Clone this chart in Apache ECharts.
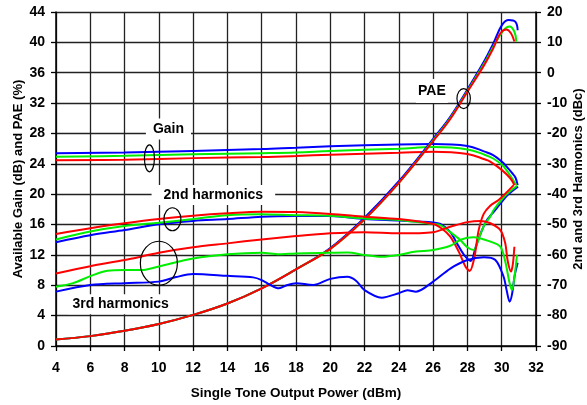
<!DOCTYPE html>
<html>
<head>
<meta charset="utf-8">
<script src="https://cdn.jsdelivr.net/npm/echarts@6/dist/echarts.min.js"></script>
<style>
html,body{margin:0;padding:0;background:#fff;}
#c{width:587px;height:405px;}
</style>
</head>
<body>
<div id="c"></div>
<script>
// ---------- DATA ----------
// Gain (dB) - left axis
const gainBlueX = [4, 8, 12, 16, 18, 20, 24, 26, 28, 29, 29.5, 30, 30.3, 30.6, 30.8, 30.93];
const gainBlueY = [25.39, 25.5, 25.7, 25.95, 26.13, 26.3, 26.55, 26.6, 26.35, 25.6, 25.15, 24.3, 23.6, 22.8, 22.2, 21.2];
const gainGreenX = [4, 8, 12, 16, 18, 20, 24, 26, 28, 29, 29.5, 30, 30.2, 30.6, 30.85];
const gainGreenY = [24.94, 25.05, 25.25, 25.4, 25.5, 25.7, 26.0, 26.2, 25.9, 25.2, 24.7, 23.9, 23.4, 22.1, 21.2];
const gainRedX = [4, 8, 12, 16, 18, 20, 24, 26, 28, 29, 29.33, 30, 30.5, 30.74];
const gainRedY = [24.47, 24.55, 24.75, 24.9, 25.03, 25.2, 25.45, 25.6, 25.3, 24.6, 24.3, 23.2, 22.1, 21.2];

// PAE (%) - left axis
const paeX = [4, 6, 8, 10, 12, 14, 16, 18, 20, 22, 24, 26, 27, 28, 29, 29.5];
const paeBlueY = [0.85, 1.3, 2.0, 2.9, 4.1, 5.6, 7.6, 10.1, 12.9, 16.9, 21.7, 27.3, 30.2, 33.8, 37.6, 39.8];
const paeGreenY = [0.85, 1.3, 2.0, 2.9, 4.1, 5.6, 7.6, 10.1, 12.8, 16.7, 21.5, 27.1, 30.0, 33.6, 37.3, 39.4];
const paeRedY = [0.85, 1.3, 2.0, 2.9, 4.1, 5.6, 7.6, 10.1, 12.8, 16.7, 21.5, 27.0, 29.9, 33.5, 37.1, 39.2];
const paeBlueTopX = [30.02, 30.41, 30.8, 30.93];
const paeBlueTopY = [42.3, 42.95, 42.7, 41.6];
const paeGreenTopX = [30.11, 30.46, 30.74, 30.85];
const paeGreenTopY = [41.6, 42.1, 41.4, 40.1];
const paeRedTopX = [29.92, 30.27, 30.54, 30.74];
const paeRedTopY = [41.2, 41.7, 41.2, 40.1];

// 2nd harmonics (dBc) - right axis
const h2BlueX = [4, 6, 8, 10, 12, 14, 16, 18, 20, 22, 24, 26, 26.42, 27, 27.39, 27.8, 28.2, 28.46, 28.8, 29.14, 29.63, 30.3, 30.95];
const h2BlueY = [-55.8, -53.5, -51.8, -49.9, -48.8, -48.2, -47.4, -47.2, -47.2, -48.2, -48.7, -49.3, -49.8, -52.5, -56.2, -60.0, -62.0, -57.8, -52.5, -48.5, -45.2, -40.5, -37.5];
const h2GreenX = [4, 6, 8, 10, 12, 14, 16, 18, 20, 22, 24, 26, 26.42, 27, 27.58, 28, 28.36, 28.7, 29.0, 29.33, 29.53, 30.2, 30.9];
const h2GreenY = [-54.9, -52.3, -50.5, -49.4, -48.2, -46.9, -46.6, -46.9, -47.1, -48.0, -48.5, -49.8, -50.2, -52.5, -55.1, -57.5, -58.4, -54.0, -50.0, -47.4, -45.2, -40.5, -37.2];
const h2RedX = [4, 6, 8, 10, 12, 14, 16, 18, 20, 22, 24, 26, 26.5, 27, 27.5, 27.9, 28.13, 28.4, 28.65, 28.95, 29.33, 29.82, 30.7];
const h2RedY = [-53.1, -51.2, -49.6, -48.2, -47.1, -46.3, -45.8, -45.9, -46.5, -47.4, -48.2, -49.8, -51.3, -54.0, -59.0, -64.0, -65.3, -61.0, -52.0, -46.5, -43.8, -41.9, -37.0];

// 3rd harmonics (dBc) - right axis
const h3BlueX = [4, 6, 8, 10, 11, 12, 14, 15.5, 16, 16.5, 17, 17.5, 18, 19, 20, 21, 21.5, 22, 23, 24, 24.5, 25, 26, 27, 28, 28.95, 29.63, 30.11, 30.3, 30.46, 30.6, 30.75, 30.93];
const h3BlueY = [-72.1, -69.9, -69.3, -68.8, -67.3, -66.3, -66.9, -67.4, -68.3, -69.9, -71.0, -69.9, -69.3, -69.9, -67.9, -67.2, -68.5, -71.6, -74.1, -72.6, -71.6, -72.1, -68.8, -64.5, -61.7, -60.8, -61.7, -67.2, -72.0, -75.4, -73.0, -67.0, -62.6];
const h3GreenX = [4, 5, 6, 7, 8, 9, 10, 12, 14, 16, 17, 18, 20, 21, 22, 23, 24, 25, 26, 27, 27.6, 28.36, 29.33, 29.92, 30.2, 30.45, 30.6, 30.75, 30.89];
const h3GreenY = [-70.5, -69.3, -67.0, -65.2, -65.0, -65.0, -63.8, -61.2, -59.8, -59.3, -59.8, -59.5, -59.3, -59.2, -60.0, -60.6, -60.0, -58.9, -58.4, -57.0, -55.0, -54.2, -55.6, -57.3, -62.0, -69.0, -71.6, -67.0, -60.0];
const h3RedX = [4, 6, 8, 10, 12, 14, 16, 18, 20, 22, 24, 26, 27, 28, 28.75, 29.3, 29.92, 30.2, 30.35, 30.54, 30.65, 30.74];
const h3RedY = [-66.1, -63.7, -61.7, -59.3, -57.5, -56.2, -54.9, -53.8, -52.9, -52.5, -52.9, -52.5, -50.7, -49.2, -48.8, -49.5, -51.8, -56.0, -62.0, -65.5, -63.0, -57.3];

// Axis ticks
const xTicks = {min: 4, max: 32, interval: 2};
const leftTicks = {min: 0, max: 44, interval: 4};
const rightTicks = {min: -90, max: 20, interval: 10};

// Annotations (data coordinates on left axis)
const labels = [
  {text: 'Gain', x: 10.56, y: 28.6, pad: [4, 7, 3, 7]},
  {text: '2nd harmonics', x: 13.18, y: 19.9, pad: [3, 12, 3, 12]},
  {text: '3rd harmonics', x: 7.77, y: 5.5, pad: [3, 4, 3, 4]},
  {text: 'PAE', x: 25.93, y: 33.6, pad: [5, 2, 5, 2]}
];
const ellipses = [
  {x: 9.45, y: 24.73, rx: 5, ry: 13.5},
  {x: 10.79, y: 16.7, rx: 8.5, ry: 11.5},
  {x: 10.0, y: 10.9, rx: 18.5, ry: 22},
  {x: 27.78, y: 32.6, rx: 6.7, ry: 10}
];

// ---------- CHART ----------
const BLUE = '#0000ff', GREEN = '#00ee00', RED = '#ff0000';
const FONT = 'Liberation Sans';
function pairs(xs, ys) { return xs.map((x, i) => [x, ys[i]]); }
function line(name, xs, ys, color, yAxisIndex, smooth) {
  return {
    name: name, type: 'line', yAxisIndex: yAxisIndex, data: pairs(xs, ys),
    showSymbol: false, symbol: 'none', smooth: smooth === undefined ? 0.4 : smooth,
    lineStyle: {color: color, width: 2}, itemStyle: {color: color},
    animation: false, z: 3
  };
}

const chart = echarts.init(document.getElementById('c'), null, {renderer: 'canvas'});
const axisLabelStyle = {color: '#000', fontFamily: FONT, fontWeight: 'bold', fontSize: 14};
const gridLine = {show: true, lineStyle: {color: '#222', width: 1.3}};

chart.setOption({
  backgroundColor: '#fff',
  animation: false,
  grid: {left: 56, right: 51, top: 12, bottom: 59, containLabel: false, outerBoundsMode: 'none'},
  xAxis: {
    type: 'value', min: xTicks.min, max: xTicks.max, interval: xTicks.interval,
    name: 'Single Tone Output Power (dBm)', nameLocation: 'middle', nameGap: 40,
    nameTextStyle: {color: '#000', fontFamily: FONT, fontWeight: 'bold', fontSize: 13.5},
    axisLine: {show: true, lineStyle: {color: '#000', width: 1.5}},
    axisTick: {show: true, length: 5, lineStyle: {color: '#000', width: 1.3}},
    axisLabel: Object.assign({margin: 15}, axisLabelStyle),
    splitLine: gridLine
  },
  yAxis: [
    {
      type: 'value', position: 'left', min: leftTicks.min, max: leftTicks.max, interval: leftTicks.interval,
      name: 'Available Gain (dB) and PAE (%)', nameLocation: 'middle', nameGap: 31, nameRotate: 90,
      nameMoveOverlap: false,
      nameTextStyle: {color: '#000', fontFamily: FONT, fontWeight: 'bold', fontSize: 13},
      axisLine: {show: true, lineStyle: {color: '#000', width: 1.5}},
      axisTick: {show: true, length: 5, lineStyle: {color: '#000', width: 1.3}},
      axisLabel: Object.assign({margin: 11}, axisLabelStyle),
      splitLine: gridLine
    },
    {
      type: 'value', position: 'right', min: rightTicks.min, max: rightTicks.max, interval: rightTicks.interval,
      name: '2nd and 3rd Harmonics (dBc)', nameLocation: 'middle', nameGap: 36, nameRotate: 90,
      nameMoveOverlap: false,
      nameTextStyle: {color: '#000', fontFamily: FONT, fontWeight: 'bold', fontSize: 13},
      axisLine: {show: true, lineStyle: {color: '#000', width: 1.5}},
      axisTick: {show: true, length: 5, lineStyle: {color: '#000', width: 1.3}},
      axisLabel: Object.assign({margin: 11}, axisLabelStyle),
      splitLine: {show: false}
    }
  ],
  series: [
    line('Gain blue', gainBlueX, gainBlueY, BLUE, 0),
    line('Gain green', gainGreenX, gainGreenY, GREEN, 0),
    line('Gain red', gainRedX, gainRedY, RED, 0),
    line('PAE blue', paeX.concat(paeBlueTopX), paeBlueY.concat(paeBlueTopY), BLUE, 0),
    line('PAE green', paeX.concat(paeGreenTopX), paeGreenY.concat(paeGreenTopY), GREEN, 0),
    line('PAE red', paeX.concat(paeRedTopX), paeRedY.concat(paeRedTopY), RED, 0),
    line('2nd blue', h2BlueX, h2BlueY, BLUE, 1, 0.3),
    line('2nd green', h2GreenX, h2GreenY, GREEN, 1, 0.3),
    line('2nd red', h2RedX, h2RedY, RED, 1, 0.3),
    line('3rd blue', h3BlueX, h3BlueY, BLUE, 1, 0.3),
    line('3rd green', h3GreenX, h3GreenY, GREEN, 1, 0.3),
    line('3rd red', h3RedX, h3RedY, RED, 1, 0.3)
  ]
});

const graphics = [];
labels.forEach(function (l) {
  const p = chart.convertToPixel({xAxisIndex: 0, yAxisIndex: 0}, [l.x, l.y]);
  graphics.push({
    type: 'text', x: p[0], y: p[1], z: 10,
    style: {
      text: l.text, fill: '#000', font: 'bold 14px "' + FONT + '"',
      align: 'center', verticalAlign: 'middle',
      backgroundColor: '#fff', padding: l.pad
    }
  });
});
ellipses.forEach(function (e) {
  const p = chart.convertToPixel({xAxisIndex: 0, yAxisIndex: 0}, [e.x, e.y]);
  graphics.push({
    type: 'ellipse', z: 11,
    shape: {cx: p[0], cy: p[1], rx: e.rx, ry: e.ry},
    style: {fill: 'none', stroke: '#000', lineWidth: 1.2}
  });
});
chart.setOption({graphic: graphics});
</script>
</body>
</html>
